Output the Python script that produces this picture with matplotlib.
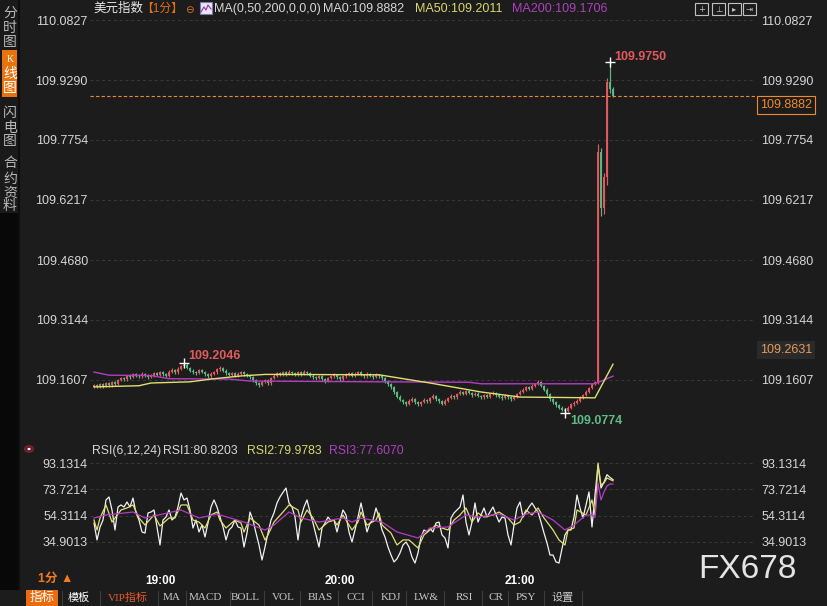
import matplotlib
matplotlib.use('Agg')
import matplotlib.pyplot as plt
import matplotlib.transforms as mtransforms
from matplotlib.patches import Rectangle, Circle
from matplotlib.lines import Line2D
import numpy as np

# ---------------- data ----------------
first_open = 109.144
closes = [
109.148, 109.142, 109.150, 109.145, 109.152, 109.147, 109.155, 109.150, 109.160, 109.165,
109.162, 109.170, 109.168, 109.175, 109.172, 109.170, 109.176, 109.173, 109.168, 109.172,
109.178, 109.174, 109.180, 109.176, 109.172, 109.182, 109.186, 109.180, 109.190, 109.196,
109.200, 109.192, 109.185, 109.180, 109.178, 109.186, 109.182, 109.175, 109.170, 109.176,
109.180, 109.188, 109.192, 109.185, 109.178, 109.174, 109.178, 109.172, 109.176, 109.180,
109.176, 109.172, 109.168, 109.160, 109.152, 109.148, 109.155, 109.160, 109.152, 109.165,
109.172, 109.178, 109.175, 109.180, 109.176, 109.182, 109.178, 109.174, 109.180, 109.176,
109.182, 109.178, 109.172, 109.168, 109.165, 109.170, 109.162, 109.158, 109.165, 109.170,
109.174, 109.168, 109.162, 109.170, 109.175, 109.178, 109.172, 109.176, 109.180, 109.174,
109.170, 109.176, 109.172, 109.168, 109.174, 109.170, 109.165, 109.158, 109.150, 109.142,
109.130, 109.118, 109.110, 109.104, 109.100, 109.108, 109.112, 109.104, 109.098, 109.104,
109.110, 109.106, 109.114, 109.120, 109.112, 109.106, 109.100, 109.108, 109.114, 109.120,
109.116, 109.124, 109.130, 109.126, 109.132, 109.128, 109.122, 109.126, 109.120, 109.116,
109.122, 109.118, 109.124, 109.128, 109.122, 109.118, 109.114, 109.120, 109.116, 109.112,
109.118, 109.124, 109.130, 109.136, 109.142, 109.138, 109.146, 109.150, 109.155, 109.146,
109.136, 109.124, 109.112, 109.104, 109.096, 109.090, 109.085, 109.082, 109.090, 109.098,
109.102, 109.108, 109.115, 109.122, 109.130, 109.140, 109.150, 109.155,
109.745, 109.600, 109.680, 109.925, 109.905, 109.8882]
highs = [
109.151, 109.151, 109.153, 109.154, 109.156, 109.155, 109.159, 109.158, 109.163, 109.169,
109.168, 109.174, 109.175, 109.179, 109.178, 109.176, 109.180, 109.179, 109.176, 109.176,
109.182, 109.181, 109.184, 109.183, 109.179, 109.186, 109.191, 109.189, 109.195, 109.200,
109.2046, 109.203, 109.195, 109.188, 109.184, 109.190, 109.189, 109.185, 109.178, 109.180,
109.184, 109.192, 109.197, 109.195, 109.188, 109.181, 109.182, 109.181, 109.180, 109.184,
109.183, 109.179, 109.175, 109.171, 109.163, 109.155, 109.159, 109.164, 109.163, 109.168,
109.176, 109.182, 109.181, 109.184, 109.183, 109.186, 109.185, 109.181, 109.184, 109.183,
109.186, 109.185, 109.181, 109.175, 109.171, 109.174, 109.173, 109.165, 109.169, 109.174,
109.178, 109.177, 109.171, 109.174, 109.179, 109.182, 109.181, 109.180, 109.184, 109.183,
109.177, 109.180, 109.179, 109.175, 109.178, 109.177, 109.173, 109.168, 109.161, 109.153,
109.145, 109.133, 109.121, 109.113, 109.107, 109.112, 109.116, 109.115, 109.107, 109.108,
109.114, 109.113, 109.118, 109.124, 109.123, 109.115, 109.109, 109.112, 109.118, 109.124,
109.123, 109.128, 109.134, 109.133, 109.136, 109.135, 109.131, 109.130, 109.129, 109.123,
109.126, 109.125, 109.128, 109.132, 109.131, 109.125, 109.121, 109.124, 109.123, 109.119,
109.122, 109.128, 109.134, 109.140, 109.146, 109.145, 109.150, 109.154, 109.160, 109.158,
109.149, 109.139, 109.127, 109.115, 109.107, 109.099, 109.093, 109.088, 109.094, 109.102,
109.106, 109.112, 109.119, 109.126, 109.134, 109.144, 109.154, 109.159,
109.765, 109.755, 109.690, 109.935, 109.975, 109.910]
lows = [
109.140, 109.139, 109.139, 109.141, 109.142, 109.143, 109.144, 109.146, 109.147, 109.157,
109.158, 109.159, 109.164, 109.165, 109.168, 109.166, 109.167, 109.169, 109.164, 109.165,
109.169, 109.170, 109.171, 109.172, 109.168, 109.169, 109.178, 109.176, 109.177, 109.186,
109.192, 109.188, 109.181, 109.176, 109.174, 109.175, 109.178, 109.171, 109.166, 109.167,
109.173, 109.177, 109.185, 109.181, 109.174, 109.170, 109.171, 109.168, 109.169, 109.173,
109.172, 109.168, 109.164, 109.156, 109.148, 109.143, 109.145, 109.152, 109.148, 109.149,
109.162, 109.169, 109.171, 109.172, 109.172, 109.173, 109.174, 109.170, 109.171, 109.172,
109.173, 109.174, 109.168, 109.164, 109.161, 109.162, 109.158, 109.154, 109.155, 109.162,
109.167, 109.164, 109.158, 109.159, 109.167, 109.172, 109.168, 109.169, 109.173, 109.170,
109.166, 109.167, 109.168, 109.164, 109.165, 109.166, 109.161, 109.154, 109.146, 109.138,
109.126, 109.114, 109.106, 109.100, 109.095, 109.097, 109.105, 109.100, 109.093, 109.095,
109.101, 109.102, 109.103, 109.111, 109.108, 109.102, 109.096, 109.097, 109.105, 109.111,
109.112, 109.113, 109.121, 109.122, 109.123, 109.124, 109.118, 109.119, 109.116, 109.112,
109.113, 109.114, 109.115, 109.121, 109.118, 109.114, 109.110, 109.111, 109.112, 109.108,
109.109, 109.115, 109.121, 109.127, 109.133, 109.134, 109.135, 109.143, 109.147, 109.142,
109.132, 109.120, 109.108, 109.100, 109.092, 109.086, 109.081, 109.0774, 109.079, 109.087,
109.095, 109.099, 109.105, 109.112, 109.119, 109.127, 109.137, 109.147,
109.150, 109.580, 109.585, 109.660, 109.895, 109.885]

ma50_idx = [0, 15, 19, 32, 40, 49, 57, 95, 112, 129, 142, 167, 173]
ma50_val = [109.143, 109.146, 109.153, 109.156, 109.164, 109.171, 109.175, 109.174,
            109.153, 109.130, 109.117, 109.115, 109.2011]
ma200_idx = [0, 5, 19, 25, 45, 52, 95, 125, 129, 167, 173]
ma200_val = [109.181, 109.173, 109.172, 109.164, 109.163, 109.158, 109.156, 109.155,
             109.151, 109.151, 109.1706]

rsi1 = [
48.9, 36.4, 45.96, 51.1, 65.9, 68.1, 58.5, 43.75, 60.7, 62.2, 60.7, 64.4, 60.7, 67.3, 56.3,
51.1, 42.3, 41.5, 56.3, 57.0, 58.5, 46.0, 32.7, 51.1, 53.3, 58.5, 51.1, 53.3, 60.7, 71.0,
65.9, 67.3, 58.5, 45.2, 51.1, 42.3, 47.4, 38.6, 48.9, 60.7, 65.9, 60.7, 53.3, 46.0, 36.4,
43.75, 46.0, 51.1, 46.0, 45.2, 31.2, 41.5, 57.0, 51.1, 41.5, 32.7, 21.6,
31.2, 41.5, 51.1, 56.3, 63.65, 68.1, 71.5, 74.7, 63.65, 60.7, 53.3, 36.4, 53.3, 60.7, 65.9,
57.0, 48.9, 40.1, 31.2, 45.2, 48.9, 53.3, 50.5, 51.1, 42.3, 51.1, 58.5, 54.8, 42.3, 34.9,
43.75, 53.3, 63.65, 53.3, 42.3, 48.9, 51.1, 59.96, 53.3, 43.75, 38.6, 31.2, 25.3, 20.2,
22.5, 26.8, 32.7, 34.9, 31.2, 23.8, 19.4, 26.8, 38.6, 43.75, 42.3, 45.0, 42.3, 48.9, 49.6,
40.1, 37.85, 30.5, 52.6, 56.3, 58.5, 60.7, 69.55, 49.6, 40.1, 49.6, 63.65, 49.6, 54.8,
59.96, 53.3, 57.0, 60.7, 55.0, 49.6, 53.3, 52.6, 40.1, 32.7, 47.4, 59.96, 64.4, 53.3, 57.0,
60.7, 63.65, 60.0, 57.0, 49.6, 41.5, 34.2, 25.3, 25.3, 20.2, 19.4, 30.0, 40.1, 43.75, 43.75,
53.3, 69.55, 59.96, 52.6, 62.2, 71.8, 45.96, 69.55, 91.7, 74.7, 79.1, 84.5, 82.5, 80.82]
rsi2_idx = [0, 1, 2, 4, 6, 9, 11, 13, 15, 17, 20, 22, 25, 27, 29, 31, 33, 35, 37, 39,
            41, 42, 44, 47, 49, 50, 52, 55, 57, 58, 60, 63, 65, 68, 69, 71, 73, 75, 78, 80,
            81, 83, 85, 86, 88, 89, 91, 94, 95, 96, 99, 101, 103, 105, 108, 110, 112, 114, 116, 118,
            120, 122, 124, 126, 128, 130, 133, 135, 138, 140, 142, 144, 146, 148, 150, 153, 155, 157, 158, 160,
            161, 164, 166, 167, 168, 169, 170, 171, 172, 173]
rsi2_val = [51.1, 43.75, 52.6, 62.2, 49.6, 58.5, 60.0, 62.2, 52.6, 47.4,
            54.8, 46.7, 52.6, 52.6, 62.2, 62.2, 51.1, 49.6, 45.2, 54.8,
            57.0, 51.1, 45.2, 51.1, 48.9, 42.3, 52.6, 47.4, 36.4, 40.1,
            49.6, 57.0, 62.2, 58.5, 49.6, 58.5, 52.6, 43.75, 49.6, 51.1,
            47.4, 54.8, 47.4, 43.75, 49.6, 57.0, 47.4, 51.1, 56.3, 47.4,
            41.5, 32.7, 36.4, 36.4, 30.5, 40.1, 43.75, 47.4, 45.2, 43.75,
            51.1, 54.8, 60.0, 49.6, 56.3, 53.3, 54.8, 57.0, 52.6, 47.4,
            49.6, 58.5, 54.8, 60.0, 52.6, 43.75, 36.4, 32.7, 43.75, 45.2,
            58.5, 54.8, 65.9, 54.8, 93.1, 76.9, 78.4, 82.1, 81.0, 79.98]
rsi3_idx = [0, 4, 13, 17, 29, 35, 41, 50, 57, 60, 65, 69, 75, 83, 86, 89, 96, 101, 108, 112,
            118, 124, 128, 135, 140, 144, 148, 153, 157, 160, 164, 166, 167, 168, 169, 170, 171, 172, 173]
rsi3_val = [52.6, 54.8, 57.0, 52.6, 58.5, 52.6, 55.5, 49.6, 43.75, 47.4,
            57.0, 52.6, 49.6, 52.6, 49.6, 52.6, 49.6, 42.3, 37.85, 45.2,
            46.0, 54.8, 53.3, 55.5, 51.1, 55.5, 57.0, 51.1, 43.75, 47.4,
            54.8, 54.8, 53.0, 78.4, 65.9, 71.8, 76.2, 77.7, 77.607]

price_ticks = ['110.0827', '109.9290', '109.7754', '109.6217', '109.4680', '109.3144', '109.1607']
rsi_ticks = ['93.1314', '73.7214', '54.3114', '34.9013']
time_idx = [22, 82, 142]
time_labels = ['19:00', '20:00', '21:00']
last_price = 109.8882
side_price = 109.2631
max_pt = (30, 109.2046)
min_pt = (157, 109.0774)
top_pt = (172, 109.9750)

# ---------------- style ----------------
W, H = 828, 606
BG = '#1c1c1c'
RED = '#e25a5e'
GREEN = '#5cb880'
YEL = '#e0e070'
MAG = '#b43cc4'
ORANGE = '#f08a2a'
TXT = '#d6d6d6'
GRID = '#3a3a3a'

plt.rcParams['font.family'] = ['Liberation Sans', 'Noto Sans CJK SC', 'DejaVu Sans']

fig = plt.figure(figsize=(W / 100, H / 100), dpi=100)
fig.patch.set_facecolor(BG)


def rect(x0, y0, x1, y1):
    return [x0 / W, 1 - y1 / H, (x1 - x0) / W, (y1 - y0) / H]


def ftext(x, y, s, **kw):
    kw.setdefault('va', 'center')
    kw.setdefault('ha', 'left')
    return fig.text(x / W, 1 - y / H, s, **kw)


def frect(x0, y0, x1, y1, **kw):
    p = Rectangle((x0 / W, 1 - y1 / H), (x1 - x0) / W, (y1 - y0) / H,
                  transform=fig.transFigure, **kw)
    fig.add_artist(p)
    return p


def fline(xs, ys, **kw):
    l = Line2D([x / W for x in xs], [1 - y / H for y in ys], transform=fig.transFigure, **kw)
    fig.add_artist(l)
    return l


XL = (-4 / 3, (755 - 94) / 3)

# ---------------- price panel ----------------
ax = fig.add_axes(rect(90, 14, 755, 437))
ax.set_facecolor('none')
for s in ax.spines.values():
    s.set_visible(False)
ax.set_xlim(*XL)
ppx = 60 / (float(price_ticks[0]) - float(price_ticks[1]))
ax.set_ylim(float(price_ticks[-1]) - 57 / ppx, float(price_ticks[0]) + 6 / ppx)
pt_vals = [float(v) for v in price_ticks]
ax.set_yticks(pt_vals, labels=price_ticks)
ax.set_xticks([])
ax.tick_params(axis='y', length=0, pad=1.5, labelsize=9, labelcolor=TXT)
ax.grid(axis='y', color=GRID, linestyle=(0, (3, 3)), linewidth=0.7)
ax.set_axisbelow(True)
sec = ax.secondary_yaxis('right')
sec.set_yticks(pt_vals, labels=price_ticks)
sec.tick_params(length=0, pad=4.5, labelsize=9, labelcolor=TXT)
sec.spines['right'].set_visible(False)

c = np.array(closes)
o = np.concatenate([[first_open], c[:-1]])
hi = np.array(highs)
lo = np.array(lows)
idx = np.arange(len(c))
up = c >= o
ax.vlines(idx[up], lo[up], hi[up], color=RED, lw=0.85)
ax.vlines(idx[~up], lo[~up], hi[~up], color=GREEN, lw=0.85)
ax.vlines(idx[up], o[up], c[up], color=RED, lw=1.4)
ax.vlines(idx[~up], c[~up], o[~up], color=GREEN, lw=1.4)

ax.plot(ma200_idx, ma200_val, color=MAG, lw=1.0)
ax.plot(ma50_idx, ma50_val, color=YEL, lw=1.0)

ax.axhline(last_price, color=ORANGE, lw=0.8, ls=(0, (3, 2)))
bt = mtransforms.blended_transform_factory(ax.transAxes, ax.transData)
ax.annotate(f'{last_price:.4f}', xy=(1, last_price), xycoords=bt, xytext=(5, -9),
            textcoords='offset pixels', va='center', ha='left', color=ORANGE, fontsize=9,
            annotation_clip=False,
            bbox=dict(boxstyle='square,pad=0.25', fc=BG, ec=ORANGE, lw=0.8))
ax.annotate(f'{side_price:.4f}', xy=(1, side_price), xycoords=bt, xytext=(5, -10),
            textcoords='offset pixels', va='center', ha='left', color='#e89a58', fontsize=9,
            annotation_clip=False,
            bbox=dict(boxstyle='square,pad=0.25', fc='#2a2a2a', ec='none'))

for (xi, yv), col, off in [(max_pt, RED, (4, 7)), (top_pt, RED, (4, 5)), (min_pt, '#5fba88', (5, -8))]:
    ax.plot([xi], [yv], marker='+', ms=7, mew=1.0, color='white')
    ax.annotate(f'{yv:.4f}', xy=(xi, yv), xytext=off, textcoords='offset pixels',
                va='center', ha='left', color=col, fontsize=9, fontweight='bold')

# ---------------- RSI panel ----------------
ar = fig.add_axes(rect(90, 458, 755, 567))
ar.set_facecolor('none')
for s in ar.spines.values():
    s.set_visible(False)
ar.set_xlim(*XL)
rpx = (float(rsi_ticks[0]) - float(rsi_ticks[-1])) / 79
ar.set_ylim(float(rsi_ticks[-1]) - 25 * rpx, float(rsi_ticks[0]) + 5 * rpx)
rt_vals = [float(v) for v in rsi_ticks]
ar.set_yticks(rt_vals, labels=rsi_ticks)
ar.tick_params(axis='y', length=0, pad=1.5, labelsize=9, labelcolor=TXT)
ar.grid(axis='y', color=GRID, linestyle=(0, (3, 3)), linewidth=0.7)
ar.set_axisbelow(True)
sec2 = ar.secondary_yaxis('right')
sec2.set_yticks(rt_vals, labels=rsi_ticks)
sec2.tick_params(length=0, pad=4.5, labelsize=9, labelcolor=TXT)
sec2.spines['right'].set_visible(False)
ar.set_xticks(time_idx, labels=time_labels)
ar.tick_params(axis='x', length=0, pad=5.5, labelsize=8.5, labelcolor='white')
for t in ar.get_xticklabels():
    t.set_fontweight('bold')

ar.plot(np.arange(len(rsi1)), rsi1, color='#f2f2f2', lw=0.9)
ar.plot(rsi2_idx, rsi2_val, color=YEL, lw=0.9)
ar.plot(rsi3_idx, rsi3_val, color=MAG, lw=0.9)

# ---------------- header ----------------
ftext(93, 9, '美元指数', color='#e8e8e8', fontsize=9)
ftext(141, 9, '【1分】', color='#e0701c', fontsize=8.5)
ftext(185, 10, '⊖', color='#e0701c', fontsize=7.5, family='DejaVu Sans')
frect(200, 2, 212, 14, fc='#e6e6f4', ec='#7a7ab8', lw=0.8)
fline([201, 204, 206, 208, 211], [12, 7, 10, 5, 9], color='#a030a0', lw=0.8)
ftext(214, 9, 'MA(0,50,200,0,0,0)', color=TXT, fontsize=9)
ftext(323, 9, 'MA0:109.8882', color=TXT, fontsize=9)
ftext(415, 9, 'MA50:109.2011', color='#d8d870', fontsize=9)
ftext(512, 9, 'MA200:109.1706', color='#b040c0', fontsize=9)
for x0, g in zip([695, 712, 728, 743], ['+', '⊥', '▸', '⇥']):
    frect(x0, 3, x0 + 13, 15, fc='none', ec='#c0c0c0', lw=0.8)
    ftext(x0 + 6.5, 9, g, color='#c0c0c0', fontsize=6, ha='center', family='DejaVu Sans')

# RSI header
fig.add_artist(Circle((29 / W, 1 - 449 / H), 4.5 / W, transform=fig.transFigure,
                      fc='#6a1a28', ec='#8a2a38', lw=0.6))
fig.add_artist(Circle((29 / W, 1 - 449 / H), 1.6 / W, transform=fig.transFigure,
                      fc='white', ec='none'))
ftext(92, 451, 'RSI(6,12,24)', color=TXT, fontsize=8.8)
ftext(163, 451, 'RSI1:80.8203', color=TXT, fontsize=8.8)
ftext(247, 451, 'RSI2:79.9783', color='#d8d870', fontsize=8.8)
ftext(329, 451, 'RSI3:77.6070', color='#b040c0', fontsize=8.8)

# ---------------- left sidebar ----------------
frect(0, 0, 18, 213, fc='#1a1a1a', ec='none')
frect(0, 213, 18, 590, fc='#080808', ec='none')
frect(18, 0, 20, 590, fc='#0e0e0e', ec='none')
frect(2, 50, 17, 97, fc='#e8720c', ec='none')
side = [('分', 13), ('时', 28), ('图', 42), ('闪', 113), ('电', 128), ('图', 141),
        ('合', 163), ('约', 179), ('资', 193), ('料', 206)]
for ch, yy in side:
    ftext(10, yy, ch, color='#b8b8b8', fontsize=10, ha='center')
ftext(10, 60, 'K', color='white', fontsize=7, ha='center', family='Liberation Serif')
ftext(10, 74, '线', color='white', fontsize=10, ha='center')
ftext(10, 88, '图', color='white', fontsize=10, ha='center')

# ---------------- bottom ----------------
ftext(38, 579, '1分 ▲', color='#f07a20', fontsize=9, fontweight='bold')
ftext(698, 570, 'FX678', color='#e4e4e4', fontsize=24)

frect(26, 590, 58, 606, fc='#ea6c10', ec='none')
ftext(42, 598, '指标', color='white', fontsize=9, ha='center')
tools = [('模板', 79, 'white'), ('VIP指标', 128, '#e8582a'), ('MA', 172, '#c8c8c8'),
         ('MACD', 205, '#c8c8c8'), ('BOLL', 245, '#c8c8c8'), ('VOL', 283, '#c8c8c8'),
         ('BIAS', 320, '#c8c8c8'), ('CCI', 356, '#c8c8c8'), ('KDJ', 391, '#c8c8c8'),
         ('LW&', 426, '#c8c8c8'), ('RSI', 464, '#c8c8c8'), ('CR', 496, '#c8c8c8'),
         ('PSY', 526, '#c8c8c8'), ('设置', 563, '#c8c8c8')]
for name, xx, col in tools:
    fam = ['Liberation Serif', 'Noto Sans CJK SC']
    ftext(xx, 598, name, color=col, fontsize=8, ha='center', family=fam)
for xs in [62, 100, 158, 186, 230, 264, 300, 338, 372, 406, 444, 482, 508, 544, 582]:
    fline([xs, xs], [591, 605], color='#3c3c3c', lw=0.8)

fig.savefig('out.png', dpi=100, facecolor=BG)
